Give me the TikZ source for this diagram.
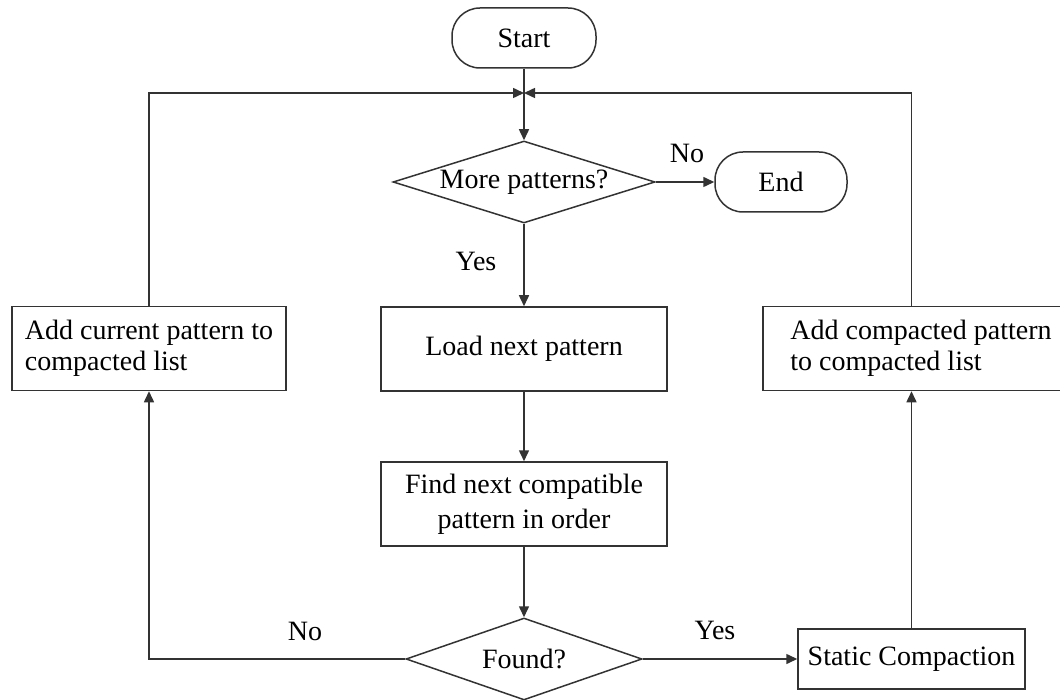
\documentclass[tikz,border=0pt]{standalone}
\usepackage{fontspec}
\setmainfont{Liberation Serif}
\usetikzlibrary{shapes.geometric,arrows.meta}
\begin{document}
\begin{tikzpicture}[x=0.5pt,y=-0.5pt,
    every node/.style={font=\fontsize{14}{15.5}\selectfont},
    line/.style={line width=0.75pt,draw=black!80},
    arr/.style={line,-{Triangle[length=5.5pt,width=5pt]}},
    term/.style={draw=black!80,line width=0.75pt,rounded corners=14pt,minimum height=30pt},
    proc/.style={draw=black!80,line width=0.75pt,minimum height=42pt,align=center},
    dec/.style={draw=black!80,line width=0.75pt,diamond,shape aspect=3,inner sep=0pt,minimum height=41pt}]
  \useasboundingbox (0,0) rectangle (1060,700);
  % main column
  \node[term,minimum width=72pt] (start) at (524,38) {Start};
  \coordinate (join) at (524,93);
  \node[dec,minimum width=131pt] (more) at (524,182) {More patterns?};
  \node[term,minimum width=66pt] (end) at (781,182) {End};
  \node[proc,minimum width=143pt] (load) at (524,349) {Load next pattern};
  \node[proc,minimum width=143pt] (find) at (524,504) {Find next compatible\\[2pt]pattern in order};
  \node[dec,minimum width=118pt] (found) at (524,659) {Found?};
  % side boxes
  \node[proc,minimum width=137pt,align=left] (addcur) at (149,348.5) {Add current pattern to\\compacted list};
  \node[proc,minimum width=158pt,align=left] (addcmp) at (921,348.5) {Add compacted pattern\\to compacted list};
  \node[proc,minimum width=113.5pt,minimum height=30pt] (static) at (911.5,659) {Static Compaction};
  % labels
  \node (nomore) at (687,153) {No};
  \node (yesmore) at (476,261) {Yes};
  \node (nofound) at (305,631) {No};
  \node (yesfound) at (715,630) {Yes};
  % connectors
  \draw[arr] (start) -- (more);
  \draw[arr] (more) -- (end);
  \draw[arr] (more) -- (load);
  \draw[arr] (load) -- (find);
  \draw[arr] (find) -- (found);
  \draw[arr] (found) -- (static);
  \draw[arr] (found) -| (addcur);
  \draw[arr] (static) -- (static |- addcmp.south);
  \draw[arr] (addcur) |- (join);
  \draw[arr] (addcmp.north -| static.north) |- (join);
\end{tikzpicture}
\end{document}
